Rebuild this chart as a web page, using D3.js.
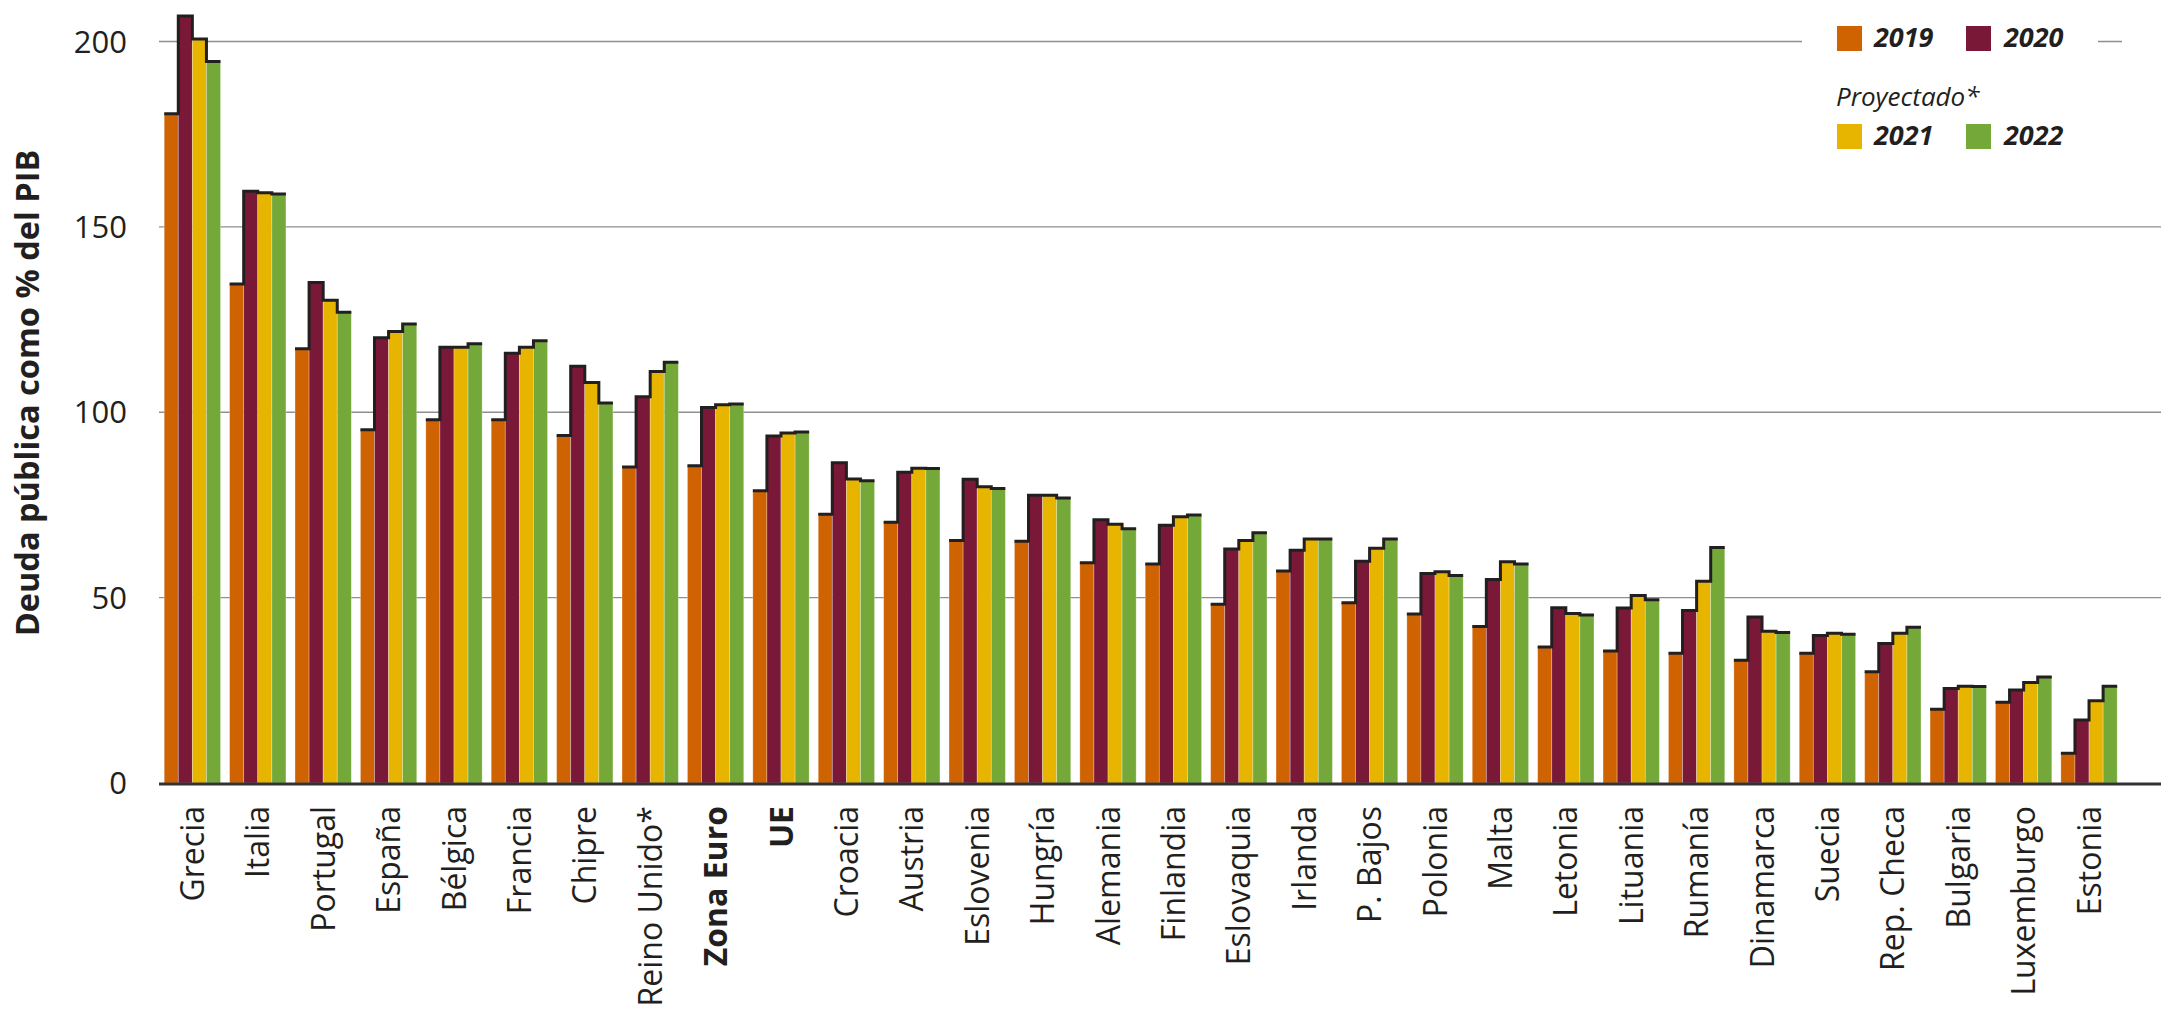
<!DOCTYPE html>
<html>
<head>
<meta charset="utf-8">
<script src="https://cdn.jsdelivr.net/npm/d3@7"></script>
<style>
  html, body { margin: 0; padding: 0; background: #fff; }
  svg { display: block; }
</style>
</head>
<body>
<svg id="chart" width="2161" height="1013"></svg>
<script>
const categories = ["Grecia","Italia","Portugal","España","Bélgica","Francia","Chipre","Reino Unido*","Zona Euro","UE","Croacia","Austria","Eslovenia","Hungría","Alemania","Finlandia","Eslovaquia","Irlanda","P. Bajos","Polonia","Malta","Letonia","Lituania","Rumanía","Dinamarca","Suecia","Rep. Checa","Bulgaria","Luxemburgo","Estonia"];
const boldCategories = ["Zona Euro","UE"];
const years = ["2019","2020","2021","2022"];
const v2019 = [180.5,134.6,117.1,95.3,98.0,98.0,93.7,85.2,85.6,78.8,72.5,70.3,65.4,65.2,59.4,59.1,48.2,57.2,48.6,45.6,42.2,36.7,35.6,35.0,33.1,35.0,30.0,19.9,21.8,8.0];
const v2020 = [206.9,159.6,135.0,120.1,117.5,115.9,112.4,104.2,101.3,93.6,86.4,83.8,81.9,77.6,71.0,69.5,63.1,62.8,59.8,56.5,54.9,47.3,47.2,46.5,44.8,39.8,37.6,25.5,25.1,17.0];
const v2021 = [200.7,159.2,130.2,121.8,117.5,117.5,108.0,111.0,102.0,94.4,82.0,84.9,79.9,77.6,69.8,71.8,65.4,65.8,63.3,57.0,59.7,45.7,50.6,54.4,40.9,40.4,40.4,26.1,27.1,22.2];
const v2022 = [194.6,158.9,127.0,123.8,118.5,119.3,102.5,113.5,102.2,94.7,81.5,84.8,79.4,76.9,68.6,72.3,67.5,65.8,65.8,56.0,59.1,45.3,49.4,63.5,40.6,40.1,42.0,26.0,28.6,26.1];
const yTicks = [0,50,100,150,200];
const yTitle = "Deuda pública como % del PIB";
const legendNote = "Proyectado*";

const series = [v2019, v2020, v2021, v2022];
const colors = ["#CF6302", "#7A1838", "#E7B400", "#74A939"];

const svg = d3.select("#chart");
const FONT = "'Open Sans', 'Noto Sans', sans-serif";

const x = d3.scaleBand().domain(categories).range([159.7, 2121.7]).paddingInner(0.139).paddingOuter(0.069);
const xs = d3.scaleBand().domain(years).range([0, x.bandwidth()]).padding(0);
const y = d3.scaleLinear().domain([0, 200]).range([783, 41.5]);

// gridlines
const grid = svg.append("g");
grid.selectAll("line").data(yTicks.filter(d => d > 0)).join("line")
  .attr("x1", 159).attr("x2", d => d === 200 ? 2122 : 2161)
  .attr("y1", d => y(d)).attr("y2", d => y(d))
  .attr("stroke", "#8f8f8f").attr("stroke-width", 1.4);

// y tick labels
svg.append("g").selectAll("text").data(yTicks).join("text")
  .attr("x", 127).attr("y", d => y(d)).attr("dy", "0.36em")
  .attr("text-anchor", "end")
  .attr("font-family", FONT).attr("font-size", 31).attr("fill", "#231f20")
  .text(d => d);

// y title
svg.append("text")
  .attr("transform", "translate(39,393) rotate(-90)")
  .attr("text-anchor", "middle")
  .attr("font-family", FONT).attr("font-weight", 700).attr("font-size", 32.5)
  .attr("fill", "#231f20")
  .text(yTitle);

// bars
const groups = svg.append("g").selectAll("g").data(categories).join("g")
  .attr("transform", d => `translate(${x(d)},0)`);

groups.selectAll("rect").data((d, i) => years.map((yr, k) => ({yr, k, v: series[k][i]}))).join("rect")
  .attr("x", d => xs(d.yr)).attr("width", xs.bandwidth())
  .attr("y", d => y(d.v)).attr("height", d => y(0) - y(d.v))
  .attr("fill", d => colors[d.k])
  .attr("stroke", "rgba(255,255,255,0.35)").attr("stroke-width", 0.8);

// step outline over tops
groups.append("path")
  .attr("d", (d, i) => {
    const vals = series.map(s => s[i]);
    let p = `M${xs(years[0])},${y(vals[0])}H${xs(years[0]) + xs.bandwidth()}`;
    for (let k = 1; k < years.length; k++) {
      p += `V${y(vals[k])}H${xs(years[k]) + xs.bandwidth()}`;
    }
    return p;
  })
  .attr("fill", "none").attr("stroke", "#231f20").attr("stroke-width", 3)
  .attr("stroke-linejoin", "miter");

// baseline axis
svg.append("line")
  .attr("x1", 159).attr("x2", 2161).attr("y1", y(0) + 1).attr("y2", y(0) + 1)
  .attr("stroke", "#333").attr("stroke-width", 3);

// x labels
svg.append("g").selectAll("text").data(categories).join("text")
  .attr("transform", d => `translate(${x(d) + x.bandwidth() / 2},806) rotate(-90)`)
  .attr("dy", "0.36em")
  .attr("text-anchor", "end")
  .attr("font-family", FONT).attr("font-size", 32)
  .attr("font-weight", d => boldCategories.includes(d) ? 700 : 400)
  .attr("fill", "#231f20")
  .text(d => d);

// legend
const lg = svg.append("g");
lg.append("rect").attr("x", 1802).attr("y", 0).attr("width", 296).attr("height", 160).attr("fill", "#fff");
const legendPos = [
  {sx: 1837, sy: 26, tx: 1874, ty: 47},
  {sx: 1966, sy: 26, tx: 2004, ty: 47},
  {sx: 1837, sy: 124, tx: 1874, ty: 145},
  {sx: 1966, sy: 124, tx: 2004, ty: 145}
];
years.forEach((yr, k) => {
  const p = legendPos[k];
  lg.append("rect").attr("x", p.sx).attr("y", p.sy).attr("width", 25).attr("height", 25)
    .attr("fill", colors[k]);
  lg.append("text").attr("x", p.tx).attr("y", p.ty)
    .attr("font-family", FONT).attr("font-size", 27).attr("font-weight", 700).attr("font-style", "italic")
    .attr("fill", "#231f20").text(yr);
});
lg.append("text").attr("x", 1836).attr("y", 106)
  .attr("font-family", FONT).attr("font-size", 26).attr("font-style", "italic")
  .attr("fill", "#231f20").text(legendNote);
</script>
</body>
</html>
